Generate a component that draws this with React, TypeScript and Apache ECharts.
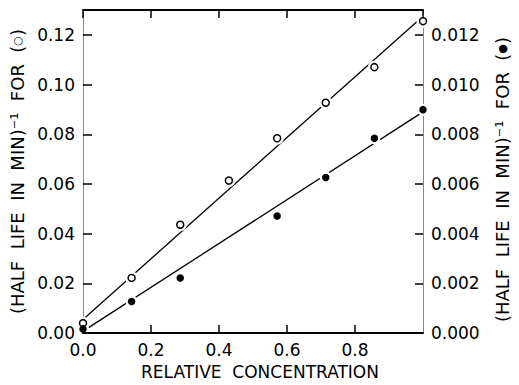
import React, { useEffect, useRef } from "react";
import * as echarts from "echarts";

const xOpen = [0, 0.143, 0.286, 0.429, 0.571, 0.714, 0.857, 1.0];
const yOpen = [0.004, 0.0222, 0.0436, 0.0614, 0.0784, 0.0927, 0.107, 0.1255];
const xFilled = [0, 0.143, 0.286, 0.571, 0.714, 0.857, 1.0];
const yFilled = [0.00016, 0.00127, 0.00222, 0.00471, 0.00626, 0.00784, 0.00899];
const openFitX = [0, 1.0];
const openFitY = [0.0055, 0.1275];
const filledFitX = [0.014, 1.0];
const filledFitY = [0.0002, 0.0089];
const xTitle = "RELATIVE  CONCENTRATION";
const yTitleText = "(HALF  LIFE  IN  MIN)\u207B\u00B9  FOR  (";
const leftSymbol = "\u25CB";
const rightSymbol = "\u25CF";

const FONT = "DejaVu Sans";

export default function App() {
  const ref = useRef<HTMLDivElement>(null);
  useEffect(() => {
    if (!ref.current) return;
    const chart = echarts.init(ref.current, null, { renderer: "svg" });
    const pair = (xs: number[], ys: number[]) => xs.map((x, i) => [x, ys[i]]);
    const tick = { color: "#000", fontFamily: FONT, fontSize: 17 };
    const title = { color: "#000", fontFamily: FONT, fontSize: 18 };
    const rich = {
      t: { color: "#000", fontFamily: FONT, fontSize: 18 },
      c: { color: "#000", fontFamily: FONT, fontSize: 11 },
    };
    chart.setOption({
      animation: false,
      backgroundColor: "#fff",
      grid: { left: 83, right: 87, top: 10, bottom: 48, containLabel: false },
      xAxis: [
        {
          type: "value",
          position: "bottom",
          min: 0,
          max: 1,
          interval: 0.2,
          z: 5,
          name: xTitle,
          nameLocation: "middle",
          nameGap: 28,
          nameTextStyle: { ...title, fontSize: 17, padding: [0, 0, 0, 14] },
          axisLine: { show: true, onZero: false, lineStyle: { color: "#000", width: 2 } },
          axisTick: { show: true, inside: true, length: 8, lineStyle: { color: "#000", width: 1.5 } },
          axisLabel: {
            ...tick,
            margin: 8,
            showMaxLabel: false,
            formatter: (v: number) => v.toFixed(1),
          },
          splitLine: { show: false },
        },
        {
          type: "value",
          position: "top",
          min: 0,
          max: 1,
          interval: 0.2,
          z: 5,
          axisLine: { show: true, onZero: false, lineStyle: { color: "#000", width: 2 } },
          axisTick: { show: true, inside: true, length: 8, lineStyle: { color: "#000", width: 1.5 } },
          axisLabel: { show: false },
          splitLine: { show: false },
        },
      ],
      yAxis: [
        {
          type: "value",
          position: "left",
          min: 0,
          max: 0.13,
          interval: 0.02,
          name: `{t|${yTitleText}}{c|${leftSymbol}}{t|)}`,
          nameLocation: "middle",
          nameRotate: 90,
          nameGap: 54,
          nameTextStyle: { ...title, rich },
          axisLine: { show: true, onZero: false, lineStyle: { color: "#888", width: 1 } },
          axisTick: { show: true, inside: true, length: 9, lineStyle: { color: "#000", width: 1.5 } },
          axisLabel: {
            ...tick,
            margin: 8,
            showMaxLabel: false,
            formatter: (v: number) => (v > 0.125 ? "" : v.toFixed(2)),
          },
          splitLine: { show: false },
        },
        {
          type: "value",
          position: "right",
          min: 0,
          max: 0.013,
          interval: 0.002,
          name: `{t|${yTitleText}}{c|${rightSymbol}}{t|)}`,
          nameLocation: "middle",
          nameRotate: 90,
          nameGap: 70,
          nameTextStyle: { ...title, rich, padding: [0, 16, 0, 0] },
          axisLine: { show: true, onZero: false, lineStyle: { color: "#888", width: 1 } },
          axisTick: { show: true, inside: true, length: 8, lineStyle: { color: "#000", width: 1.5 } },
          axisLabel: {
            ...tick,
            margin: 8,
            showMaxLabel: false,
            formatter: (v: number) => (v > 0.0125 ? "" : v.toFixed(3)),
          },
          splitLine: { show: false },
        },
      ],
      series: [
        {
          type: "line",
          name: "open fit",
          xAxisIndex: 0,
          yAxisIndex: 0,
          data: pair(openFitX, openFitY),
          symbol: "none",
          z: 1,
          lineStyle: { color: "#000", width: 1.3 },
        },
        {
          type: "line",
          name: "filled fit",
          xAxisIndex: 0,
          yAxisIndex: 1,
          data: pair(filledFitX, filledFitY),
          symbol: "none",
          z: 1,
          lineStyle: { color: "#000", width: 1.3 },
        },
        {
          type: "scatter",
          name: "open halo",
          xAxisIndex: 0,
          yAxisIndex: 0,
          data: pair(xOpen, yOpen),
          symbol: "circle",
          symbolSize: 13,
          z: 2,
          silent: true,
          itemStyle: { color: "#fff", opacity: 1 },
        },
        {
          type: "scatter",
          name: "filled halo",
          xAxisIndex: 0,
          yAxisIndex: 1,
          data: pair(xFilled, yFilled),
          symbol: "circle",
          symbolSize: 12,
          z: 2,
          silent: true,
          itemStyle: { color: "#fff", opacity: 1 },
        },
        {
          type: "scatter",
          name: "open",
          xAxisIndex: 0,
          yAxisIndex: 0,
          data: pair(xOpen, yOpen),
          symbol: "circle",
          symbolSize: 7,
          z: 3,
          itemStyle: { color: "#fff", borderColor: "#000", borderWidth: 1.5, opacity: 1 },
        },
        {
          type: "scatter",
          name: "filled",
          xAxisIndex: 0,
          yAxisIndex: 1,
          data: pair(xFilled, yFilled),
          symbol: "circle",
          symbolSize: 7.5,
          z: 3,
          itemStyle: { color: "#000", opacity: 1 },
        },
      ],
    });
    return () => chart.dispose();
  }, []);
  return <div ref={ref} style={{ width: 519, height: 385, position: "absolute", left: 0, top: 0 }} />;
}
